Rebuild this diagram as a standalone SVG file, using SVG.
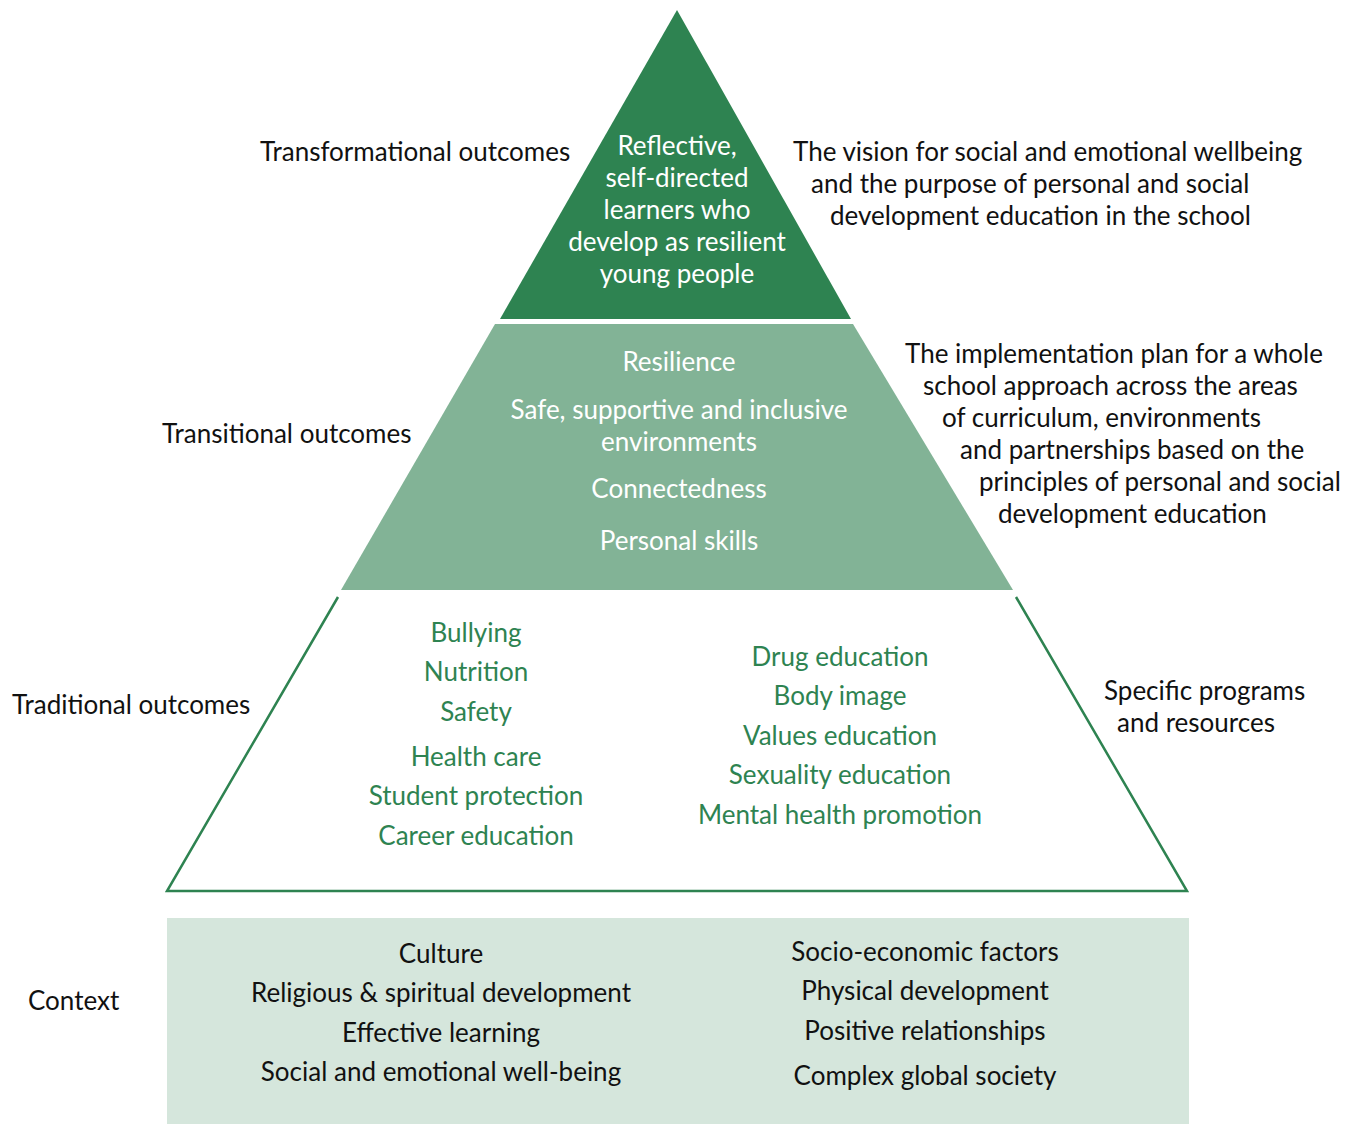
<svg xmlns="http://www.w3.org/2000/svg" width="1365" height="1124" viewBox="0 0 1365 1124">
  <style>
    text { font-family: Lato, "Open Sans", "Liberation Sans", sans-serif; font-size: 26px; }
    .c { text-anchor: middle; }
    .dark { fill: #111111; }
    .white { fill: #ffffff; }
    .green { fill: #2e8351; }
  </style>
  <rect width="1365" height="1124" fill="#ffffff"/>

  <!-- Top tier: transformational outcomes -->
  <g id="tier-transformational">
    <polygon points="677,10 500,319 851,319" fill="#2e8351"/>
    <text class="c white" x="677" y="155">Reflective,</text>
    <text class="c white" x="677" y="187">self-directed</text>
    <text class="c white" x="677" y="219">learners who</text>
    <text class="c white" x="677" y="251">develop as resilient</text>
    <text class="c white" x="677" y="283">young people</text>
  </g>
  <g id="label-transformational">
    <text class="dark" x="260" y="161">Transformational outcomes</text>
  </g>
  <g id="note-vision">
    <text class="dark" x="793" y="161">The vision for social and emotional wellbeing</text>
    <text class="dark" x="811" y="193">and the purpose of personal and social</text>
    <text class="dark" x="830" y="225">development education in the school</text>
  </g>

  <!-- Middle tier: transitional outcomes -->
  <g id="tier-transitional">
    <polygon points="495,324 853,324 1013,590 341,590" fill="#82b396"/>
    <text class="c white" x="679" y="371">Resilience</text>
    <text class="c white" x="679" y="419">Safe, supportive and inclusive</text>
    <text class="c white" x="679" y="451">environments</text>
    <text class="c white" x="679" y="498">Connectedness</text>
    <text class="c white" x="679" y="550">Personal skills</text>
  </g>
  <g id="label-transitional">
    <text class="dark" x="162" y="443">Transitional outcomes</text>
  </g>
  <g id="note-implementation">
    <text class="dark" x="905" y="363">The implementation plan for a whole</text>
    <text class="dark" x="923" y="395">school approach across the areas</text>
    <text class="dark" x="942" y="427">of curriculum, environments</text>
    <text class="dark" x="960" y="459">and partnerships based on the</text>
    <text class="dark" x="979" y="491">principles of personal and social</text>
    <text class="dark" x="998" y="523">development education</text>
  </g>

  <!-- Bottom tier: traditional outcomes -->
  <g id="tier-traditional">
    <polyline points="338,597 167,891 1187,891 1016,597" fill="none" stroke="#2e8351" stroke-width="2.5" stroke-linejoin="miter"/>
    <text class="c green" x="476" y="642">Bullying</text>
    <text class="c green" x="476" y="681">Nutrition</text>
    <text class="c green" x="476" y="721">Safety</text>
    <text class="c green" x="476" y="766">Health care</text>
    <text class="c green" x="476" y="805">Student protection</text>
    <text class="c green" x="476" y="845">Career education</text>
    <text class="c green" x="840" y="666">Drug education</text>
    <text class="c green" x="840" y="705">Body image</text>
    <text class="c green" x="840" y="745">Values education</text>
    <text class="c green" x="840" y="784">Sexuality education</text>
    <text class="c green" x="840" y="824">Mental health promotion</text>
  </g>
  <g id="label-traditional">
    <text class="dark" x="12" y="714">Traditional outcomes</text>
  </g>
  <g id="note-programs">
    <text class="dark" x="1104" y="700">Specific programs</text>
    <text class="dark" x="1117" y="732">and resources</text>
  </g>

  <!-- Base: context -->
  <g id="base-context">
    <rect x="167" y="918" width="1022" height="206" fill="#d5e6dc"/>
    <text class="c dark" x="441" y="963">Culture</text>
    <text class="c dark" x="441" y="1002">Religious &amp; spiritual development</text>
    <text class="c dark" x="441" y="1042">Effective learning</text>
    <text class="c dark" x="441" y="1081">Social and emotional well-being</text>
    <text class="c dark" x="925" y="961">Socio-economic factors</text>
    <text class="c dark" x="925" y="1000">Physical development</text>
    <text class="c dark" x="925" y="1040">Positive relationships</text>
    <text class="c dark" x="925" y="1085">Complex global society</text>
  </g>
  <g id="label-context">
    <text class="dark" x="28" y="1010">Context</text>
  </g>

  <!-- No connectors in this figure -->
  <g id="connectors"></g>
</svg>
